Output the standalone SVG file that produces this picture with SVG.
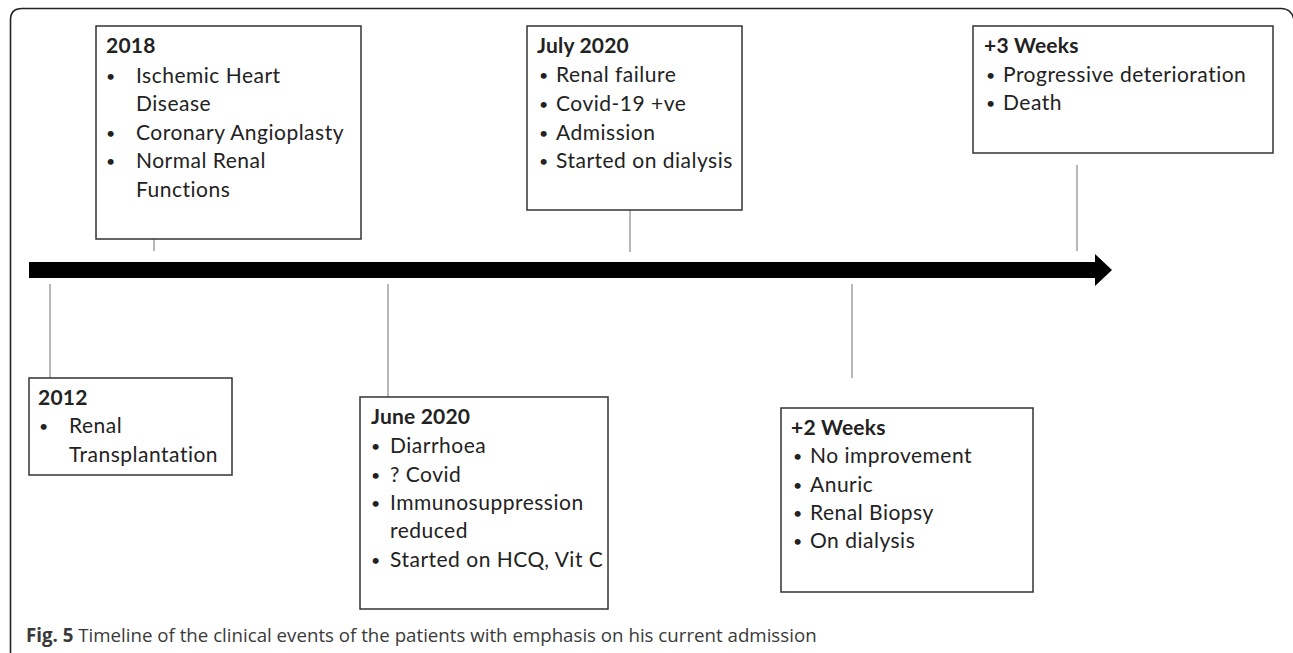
<svg xmlns="http://www.w3.org/2000/svg" width="1293" height="653" viewBox="0 0 1293 653">
<style>
.box{fill:#fff;stroke:#333;stroke-width:1.5}
.t{font-family:Lato,"Liberation Sans",sans-serif;font-size:21px;letter-spacing:0.5px;fill:#222}
.b{font-weight:bold;letter-spacing:0.2px}
.d{font-size:16px}
.conn{stroke:#888;stroke-width:1.2;fill:none}
.cap{font-family:"Open Sans","Noto Sans",sans-serif;font-size:18.7px;fill:#3a3a3a}
</style>
<rect width="1293" height="653" fill="#fff"/>
<path d="M10.5,653 V20 Q10.5,8.5 22,8.5 H1281 Q1292,8.5 1294,20" fill="none" stroke="#222" stroke-width="1.6"/>
<g id="connectors">
<path class="conn" d="M154,239 V251"/>
<path class="conn" d="M630,210 V252"/>
<path class="conn" d="M1077,165 V251"/>
<path class="conn" d="M50,284 V378"/>
<path class="conn" d="M388,284 V397"/>
<path class="conn" d="M852,284 V378"/>
</g>
<g id="timeline">
<path d="M29,262 H1095 V254 L1112,270 L1095,286 V278 H29 Z" fill="#000"/>
</g>
<g id="n2018">
<rect class="box" x="96" y="26" width="265" height="213"/>
<text class="t b" x="106" y="53">2018</text>
<text class="t d" x="106" y="82">•</text><text class="t" x="136" y="83">Ischemic Heart</text>
<text class="t" x="136" y="111">Disease</text>
<text class="t d" x="106" y="139">•</text><text class="t" x="136" y="140">Coronary Angioplasty</text>
<text class="t d" x="106" y="167">•</text><text class="t" x="136" y="168">Normal Renal</text>
<text class="t" x="136" y="197">Functions</text>
</g>
<g id="n2012">
<rect class="box" x="29" y="378" width="203" height="97"/>
<text class="t b" x="38" y="405">2012</text>
<text class="t d" x="39" y="432">•</text><text class="t" x="69" y="433">Renal</text>
<text class="t" x="69" y="462">Transplantation</text>
</g>
<g id="njune">
<rect class="box" x="360" y="397" width="248" height="212"/>
<text class="t b" x="371" y="424">June 2020</text>
<text class="t d" x="371" y="452">•</text><text class="t" x="390" y="453">Diarrhoea</text>
<text class="t d" x="371" y="481">•</text><text class="t" x="390" y="482">? Covid</text>
<text class="t d" x="371" y="509">•</text><text class="t" x="390" y="510">Immunosuppression</text>
<text class="t" x="390" y="538">reduced</text>
<text class="t d" x="371" y="566">•</text><text class="t" x="390" y="567">Started on HCQ, Vit C</text>
</g>
<g id="njuly">
<rect class="box" x="527" y="26" width="215" height="184"/>
<text class="t b" x="537" y="53">July 2020</text>
<text class="t d" x="539" y="81">•</text><text class="t" x="556" y="82">Renal failure</text>
<text class="t d" x="539" y="110">•</text><text class="t" x="556" y="111">Covid-19 +ve</text>
<text class="t d" x="539" y="139">•</text><text class="t" x="556" y="140">Admission</text>
<text class="t d" x="539" y="167">•</text><text class="t" x="556" y="168">Started on dialysis</text>
</g>
<g id="n2weeks">
<rect class="box" x="781" y="408" width="252" height="184"/>
<text class="t b" x="791" y="435">+2 Weeks</text>
<text class="t d" x="793" y="462">•</text><text class="t" x="810" y="463">No improvement</text>
<text class="t d" x="793" y="491">•</text><text class="t" x="810" y="492">Anuric</text>
<text class="t d" x="793" y="519">•</text><text class="t" x="810" y="520">Renal Biopsy</text>
<text class="t d" x="793" y="547">•</text><text class="t" x="810" y="548">On dialysis</text>
</g>
<g id="n3weeks">
<rect class="box" x="973" y="26" width="300" height="127"/>
<text class="t b" x="984" y="53">+3 Weeks</text>
<text class="t d" x="986" y="81">•</text><text class="t" x="1003" y="82">Progressive deterioration</text>
<text class="t d" x="986" y="109">•</text><text class="t" x="1003" y="110">Death</text>
</g>
<text class="cap" x="26" y="642"><tspan font-weight="bold">Fig. 5</tspan> Timeline of the clinical events of the patients with emphasis on his current admission</text>
</svg>
